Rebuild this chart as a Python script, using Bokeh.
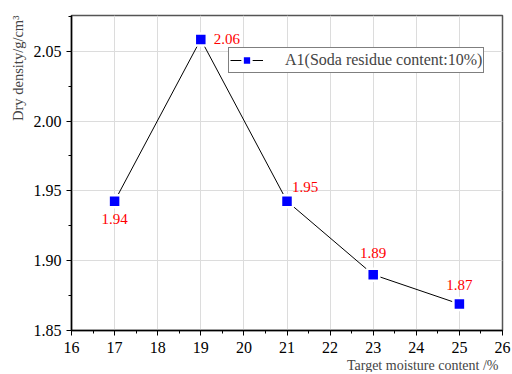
from bokeh.plotting import figure
from bokeh.models import (ColumnDataSource, SingleIntervalTicker, Title, Legend,
                          LegendItem, NumeralTickFormatter, Range1d)
from bokeh.embed import file_html
from bokeh.resources import INLINE
from bokeh.core.properties import value

# ---- data ----
moisture = [17, 19, 21, 23, 25]
density = [1.9426, 2.0585, 1.9426, 1.890, 1.869]
labels = ["1.94", "2.06", "1.95", "1.89", "1.87"]
series_name = "A1(Soda residue content:10%)"
x_label = "Target moisture content /%"
y_label = "Dry density/g/cm\u00b3"

# label placement (style)
lab_dx = [0, 13, 5, 0, 0]
lab_dy = [18, 0, -14, -22, -19]
lab_align = ["center", "left", "left", "center", "center"]

FONT = "Liberation Serif"

src = ColumnDataSource(dict(x=moisture, y=density, t=labels, dx=lab_dx, dy=lab_dy, al=lab_align))

p = figure(frame_width=431, frame_height=315,
           x_range=Range1d(16, 26), y_range=Range1d(1.85, 2.0756),
           output_backend="svg", toolbar_location=None,
           min_border_left=71, min_border_top=15, min_border_right=10, min_border_bottom=20)

p.outline_line_color = "#555555"
p.outline_line_width = 1.5
p.background_fill_color = "white"
p.border_fill_color = "white"

xt = SingleIntervalTicker(interval=1, num_minor_ticks=2)
yt = SingleIntervalTicker(interval=0.05, num_minor_ticks=2)
p.xaxis.ticker = xt
p.yaxis.ticker = yt
p.xgrid.ticker = xt
p.ygrid.ticker = yt
p.yaxis.formatter = NumeralTickFormatter(format="0.00")

for ax in (p.xaxis[0], p.yaxis[0]):
    ax.major_label_text_font = FONT
    ax.major_label_text_font_size = "16px"
    ax.major_label_text_font_style = "normal"
    ax.major_label_text_color = "black"
    ax.axis_line_color = "black"
    ax.axis_line_width = 1.5
    ax.major_tick_line_color = "black"
    ax.minor_tick_line_color = "black"
    ax.major_tick_out = 5
    ax.major_tick_in = 0
    ax.minor_tick_out = 3
    ax.minor_tick_in = 0
p.xaxis[0].major_label_standoff = 6
p.yaxis[0].major_label_standoff = 5

p.xgrid.grid_line_color = "#dcdcdc"
p.ygrid.grid_line_color = "#dcdcdc"
p.xgrid.grid_line_width = 1
p.ygrid.grid_line_width = 1

line = p.line("x", "y", source=src, line_color="black", line_width=1)
pts = p.scatter("x", "y", source=src, marker="square", size=12,
                fill_color="#0000ff", line_color="white", line_width=2.5)

p.text("x", "y", text="t", source=src, x_offset="dx", y_offset="dy",
       text_align="al", text_baseline="middle",
       text_font=value(FONT), text_font_size="15px", text_color="#ff0000")

legend = Legend(items=[LegendItem(label=series_name, renderers=[line, pts])],
                location=(157, 257), padding=1, margin=0,
                label_text_font=FONT, label_text_font_size="16px",
                label_height=18, glyph_height=22, glyph_width=33, label_standoff=22,
                border_line_color="black", border_line_width=1,
                background_fill_alpha=1)
p.add_layout(legend, "center")

p.add_layout(Title(text=y_label, align="right", text_font=FONT, text_font_size="14.5px",
                   text_font_style="normal", offset=0, standoff=10), "left")
p.add_layout(Title(text=x_label, align="right", text_font=FONT, text_font_size="14px",
                   text_font_style="normal", offset=4, standoff=0), "below")

open("out.html", "w").write(file_html(p, INLINE))
